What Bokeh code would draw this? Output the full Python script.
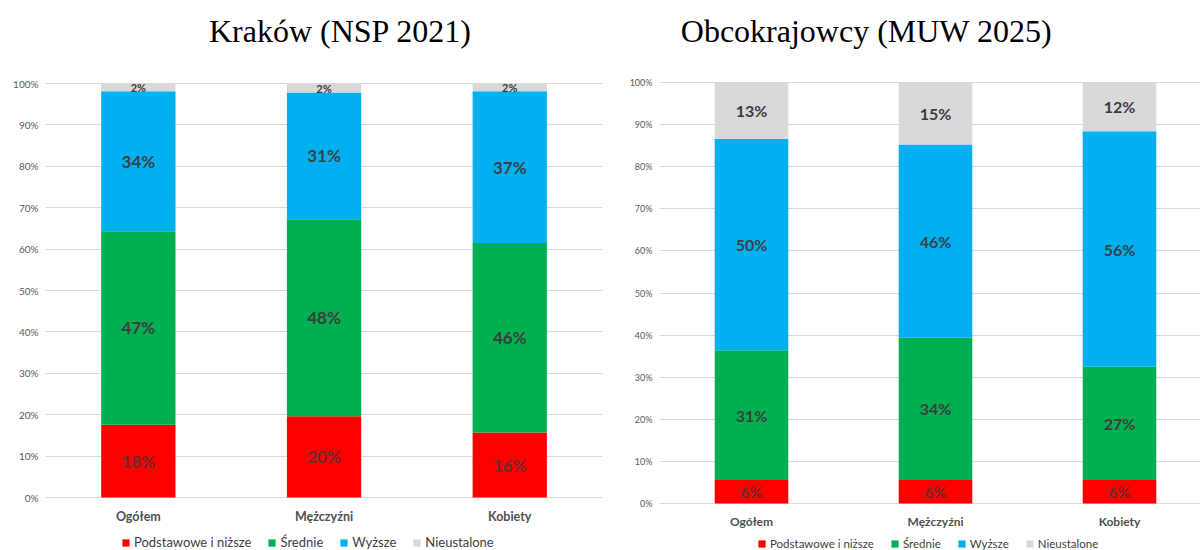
from bokeh.plotting import figure
from bokeh.models import (ColumnDataSource, Range1d, FixedTicker, PrintfTickFormatter,
                          Legend, LegendItem, Label)
from bokeh.layouts import row
from bokeh.embed import file_html
from bokeh.resources import INLINE
from bokeh.core.properties import value

# ---------------- data ----------------
categories = ["Ogółem", "Mężczyźni", "Kobiety"]
levels = ["Podstawowe i niższe", "Średnie", "Wyższe", "Nieustalone"]

krakow_podstawowe = [17.6, 19.6, 15.7]
krakow_srednie = [46.7, 47.6, 45.8]
krakow_wyzsze = [33.8, 30.6, 36.6]
krakow_nieustalone = [1.9, 2.2, 1.9]

obcy_podstawowe = [5.6, 5.6, 5.6]
obcy_srednie = [30.8, 33.8, 26.9]
obcy_wyzsze = [50.2, 45.9, 55.9]
obcy_nieustalone = [13.4, 14.7, 11.6]

y_ticks = [0, 10, 20, 30, 40, 50, 60, 70, 80, 90, 100]

# ---------------- styles ----------------
COLORS = ["#FF0000", "#00B050", "#00B0F0", "#D9D9D9"]
LABEL_COLORS = ["#6A2C2C", "#3C3C3C", "#3A3F48", "#3C3C3C"]
FONT = "Lato"
KEYS = ["p", "s", "w", "n"]
TOTAL_H = 550


def make_chart(title, series, border_left, border_right, top_px, bottom_px, frame_w,
               band_px, title_x, title_y, main_size, small_size, tick_size,
               cat_size, cat_y_px, legend_x, legend_size):
    xs = [i + 0.5 for i in range(len(categories))]
    data = {"x": xs}
    for k, vals in zip(KEYS, series):
        data[k] = vals
    src = ColumnDataSource(data)

    # the frame covers the whole canvas height; 100% sits at top_px, 0% at bottom_px
    px_per_unit = (bottom_px - top_px) / 100.0
    y_end = 100.0 + top_px / px_per_unit
    y_start = -(TOTAL_H - bottom_px) / px_per_unit
    x_end = frame_w / band_px
    p = figure(frame_width=frame_w, frame_height=TOTAL_H,
               output_backend="svg", toolbar_location=None,
               x_range=Range1d(0, x_end), y_range=Range1d(y_start, y_end),
               min_border_left=border_left, min_border_right=border_right,
               min_border_top=0, min_border_bottom=0)
    p.outline_line_color = None
    p.xaxis.visible = False

    rends = p.vbar_stack(KEYS, x="x", width=0.4, color=COLORS, source=src,
                         line_color=None)

    # segment labels (centered in each segment)
    for i in range(len(categories)):
        base = 0.0
        for j, k in enumerate(KEYS):
            v = data[k][i]
            mid = base + v / 2.0
            base += v
            size = small_size if v < 5 and j == 3 else main_size
            p.text(x=[xs[i]], y=[mid], text=[f"{round(v):d}%"],
                   text_align="center", text_baseline="middle",
                   text_font=value(FONT), text_font_style="bold",
                   text_font_size=size, text_color=LABEL_COLORS[j])

    # category labels under the bars
    cat_y = -(cat_y_px - bottom_px) / px_per_unit
    p.text(x=xs, y=[cat_y] * len(xs), text=categories,
           text_align="center", text_baseline="middle",
           text_font=value(FONT), text_font_style="bold",
           text_font_size=cat_size, text_color="#505050")

    # chart title
    p.add_layout(Label(x=title_x, y=TOTAL_H - title_y, x_units="screen", y_units="screen",
                       text=title, text_align="center", text_baseline="middle",
                       text_font="Liberation Serif", text_font_size="32px",
                       text_color="#000000"))

    # y axis
    p.yaxis.ticker = FixedTicker(ticks=y_ticks)
    p.yaxis.formatter = PrintfTickFormatter(format="%d%%")
    p.yaxis.axis_line_color = None
    p.yaxis.major_tick_line_color = None
    p.yaxis.minor_tick_line_color = None
    p.yaxis.major_tick_out = 0
    p.yaxis.major_label_text_font = FONT
    p.yaxis.major_label_text_font_size = tick_size
    p.yaxis.major_label_text_color = "#595959"
    p.yaxis.major_label_standoff = 7

    p.xgrid.grid_line_color = None
    p.ygrid.grid_line_color = "#D9D9D9"
    p.ygrid.grid_line_width = 1

    legend = Legend(items=[LegendItem(label=lv, renderers=[r]) for lv, r in zip(levels, rends)],
                    orientation="horizontal", location=(legend_x, 0))
    legend.border_line_color = None
    legend.background_fill_alpha = 0
    legend.label_text_font = FONT
    legend.label_text_font_size = legend_size
    legend.label_text_color = "#404040"
    legend.glyph_width = 9
    legend.glyph_height = 9
    legend.label_standoff = 4
    legend.label_height = 14
    legend.spacing = 16
    legend.padding = 0
    legend.margin = 0
    p.add_layout(legend, "center")
    return p


left = make_chart("Kraków (NSP 2021)",
                  [krakow_podstawowe, krakow_srednie, krakow_wyzsze, krakow_nieustalone],
                  border_left=45, border_right=8, top_px=83, bottom_px=497, frame_w=557,
                  band_px=185.7, title_x=295, title_y=30, main_size="17px",
                  small_size="11px", tick_size="10px", cat_size="12.5px", cat_y_px=516,
                  legend_x=76, legend_size="13px")
right = make_chart("Obcokrajowcy (MUW 2025)",
                   [obcy_podstawowe, obcy_srednie, obcy_wyzsze, obcy_nieustalone],
                   border_left=49, border_right=0, top_px=82, bottom_px=503, frame_w=541,
                   band_px=184, title_x=207, title_y=30, main_size="16px",
                   small_size="11px", tick_size="9px", cat_size="12px", cat_y_px=521,
                   legend_x=98, legend_size="11.5px")

layout = row(left, right)
open("out.html", "w").write(file_html(layout, INLINE))
